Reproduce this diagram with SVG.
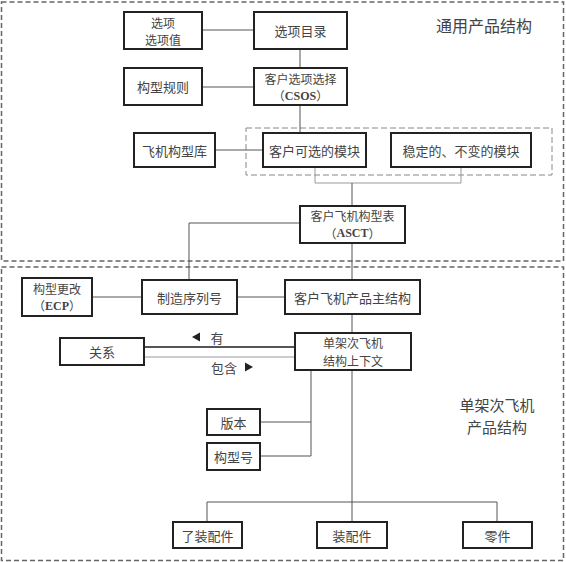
<svg xmlns="http://www.w3.org/2000/svg" width="566" height="562" viewBox="0 0 566 562">
<style>
.box{fill:#fff;stroke:#222;stroke-width:2}
.t{font-family:"Noto Sans CJK SC","Liberation Sans",sans-serif;font-size:13px;fill:#444;text-anchor:middle;dominant-baseline:central}
.t2{font-size:12px}
.lat{font-family:"Liberation Serif",serif;font-weight:bold}
.lbl{font-family:"Noto Sans CJK SC",sans-serif;font-size:16px;fill:#444;text-anchor:middle;dominant-baseline:central}
.lbl2{font-size:15px}
.ln{stroke:#555;stroke-width:1;fill:none}
.lg{stroke:#999;stroke-width:1;fill:none}
.dash{fill:none;stroke:#666;stroke-width:1.5;stroke-dasharray:5,3}
.dash2{fill:none;stroke:#888;stroke-width:1;stroke-dasharray:6,3}
</style>
<rect width="566" height="562" fill="#fff"/>
<rect class="dash" x="1.5" y="2" width="562" height="259"/>
<rect class="dash" x="1.5" y="267" width="562" height="293.5"/>
<rect class="dash2" x="246" y="128" width="306" height="47"/>
<text class="lbl" x="484" y="25">通用产品结构</text>
<text class="lbl lbl2" x="497" y="404">单架次飞机</text>
<text class="lbl lbl2" x="497" y="426">产品结构</text>
<g id="connectors">
<line class="ln" x1="202" y1="30" x2="254" y2="30"/>
<line class="ln" x1="300" y1="49" x2="300" y2="68"/>
<line class="ln" x1="202" y1="87" x2="254" y2="87"/>
<line class="ln" x1="300" y1="105" x2="300" y2="133"/>
<line class="ln" x1="215" y1="150" x2="263" y2="150"/>
<polyline class="lg" points="315,167 315,183 461,183 461,167"/>
<line class="ln" x1="352" y1="183" x2="352" y2="206"/>
<polyline class="ln" points="300,223 189,223 189,280"/>
<line class="ln" x1="352" y1="243" x2="352" y2="280"/>
<line class="ln" x1="92" y1="297" x2="142" y2="297"/>
<line class="ln" x1="237" y1="297" x2="285" y2="297"/>
<line class="ln" x1="352" y1="314" x2="352" y2="333"/>
<line x1="144" y1="347" x2="295" y2="347" stroke="#555" stroke-width="2"/>
<line class="lg" x1="144" y1="357" x2="295" y2="357"/>
<polygon points="192,337 200,332.5 200,341.5" fill="#222"/>
<text class="t" x="217" y="337">有</text>
<text class="t" x="224" y="367">包含</text>
<polygon points="253,367 245,362.5 245,371.5" fill="#222"/>
<polyline class="ln" points="311,370 311,456 260,456"/>
<line class="ln" x1="260" y1="422" x2="311" y2="422"/>
<line class="ln" x1="352" y1="370" x2="352" y2="522"/>
<polyline class="ln" points="207,522 207,502 497,502 497,522"/>
</g>
<g id="n-xuanxiang"><rect class="box" x="124" y="12" width="78" height="37"/><text class="t t2" x="163" y="22">选项</text><text class="t t2" x="163" y="39.5">选项值</text></g>
<g id="n-mulu"><rect class="box" x="254" y="12" width="93" height="37"/><text class="t" x="300.5" y="30.5">选项目录</text></g>
<g id="n-guize"><rect class="box" x="124" y="68" width="78" height="37"/><text class="t" x="163" y="86.5">构型规则</text></g>
<g id="n-csos"><rect class="box" x="254" y="68" width="93" height="37"/><text class="t t2" x="300.5" y="78">客户选项选择</text><text class="t t2" x="300.5" y="95.5">（<tspan class="lat">CSOS</tspan>）</text></g>
<g id="n-ku"><rect class="box" x="134" y="133" width="81" height="34"/><text class="t" x="174.5" y="150">飞机构型库</text></g>
<g id="n-kexuan"><rect class="box" x="263" y="133" width="103" height="34"/><text class="t" x="314.5" y="150">客户可选的模块</text></g>
<g id="n-wending"><rect class="box" x="391" y="133" width="140" height="34"/><text class="t" x="461" y="150">稳定的、不变的模块</text></g>
<g id="n-asct"><rect class="box" x="300" y="206" width="105" height="37"/><text class="t t2" x="352.5" y="215.5">客户飞机构型表</text><text class="t t2" x="352.5" y="233">（<tspan class="lat">ASCT</tspan>）</text></g>
<g id="n-ecp"><rect class="box" x="22" y="278" width="70" height="38"/><text class="t t2" x="57" y="288">构型更改</text><text class="t t2" x="57" y="305.5">（<tspan class="lat">ECP</tspan>）</text></g>
<g id="n-xulie"><rect class="box" x="142" y="280" width="95" height="34"/><text class="t" x="189.5" y="297">制造序列号</text></g>
<g id="n-zhujiegou"><rect class="box" x="285" y="280" width="135" height="34"/><text class="t" x="352.5" y="297">客户飞机产品主结构</text></g>
<g id="n-guanxi"><rect class="box" x="60" y="338" width="84" height="27"/><text class="t" x="102" y="351.5">关系</text></g>
<g id="n-danjia"><rect class="box" x="295" y="333" width="116" height="37"/><text class="t t2" x="353" y="342.5">单架次飞机</text><text class="t t2" x="353" y="360">结构上下文</text></g>
<g id="n-banben"><rect class="box" x="207" y="409" width="53" height="26"/><text class="t" x="233.5" y="422">版本</text></g>
<g id="n-gouxinghao"><rect class="box" x="207" y="443" width="53" height="27"/><text class="t" x="233.5" y="456.5">构型号</text></g>
<g id="n-lezhuang"><rect class="box" x="173" y="522" width="69" height="26"/><text class="t" x="207.5" y="535">了装配件</text></g>
<g id="n-zhuang"><rect class="box" x="317" y="522" width="70" height="26"/><text class="t" x="352" y="535">装配件</text></g>
<g id="n-lingjian"><rect class="box" x="463" y="522" width="69" height="26"/><text class="t" x="497.5" y="535">零件</text></g>
</svg>
